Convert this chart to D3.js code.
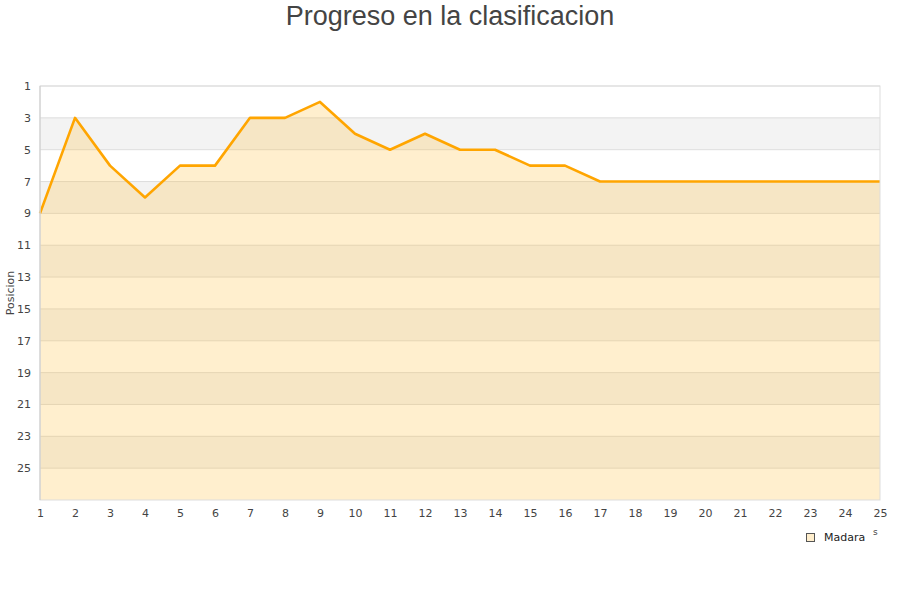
<!DOCTYPE html>
<html><head><meta charset="utf-8">
<script src="https://cdn.jsdelivr.net/npm/d3@7/dist/d3.min.js"></script>
<style>body{margin:0;background:#fff;font-family:"DejaVu Sans",sans-serif;}</style>
</head><body><svg id="c" width="900" height="600"></svg>
<script>
const jornadas = [1,2,3,4,5,6,7,8,9,10,11,12,13,14,15,16,17,18,19,20,21,22,23,24,25];
const posiciones = [9,3,6,8,6,6,3,3,2,4,5,4,5,5,6,6,7,7,7,7,7,7,7,7,7];
const yTicks = [1,3,5,7,9,11,13,15,17,19,21,23,25];
const serieNombre = "Madara";
const titulo = "Progreso en la clasificacion";

const svg = d3.select("#c");
const L=40,R=880,T=86,B=500;
const x = d3.scaleLinear().domain([1,25]).range([L,R]);
const y = d3.scaleLinear().domain([1,27]).range([T,B]);

// bands
for (let v=3; v<27; v+=4){
  svg.append("rect").attr("x",L).attr("width",R-L).attr("y",y(v)).attr("height",y(v+2)-y(v)).attr("fill","#f3f3f3");
}
// grid
svg.append("g").selectAll("line").data(yTicks).join("line")
  .attr("x1",L).attr("x2",R).attr("y1",d=>y(d)).attr("y2",d=>y(d)).attr("stroke","#dddddd");
// area
const area = d3.area().x((d,i)=>x(jornadas[i])).y0(y(27)).y1(d=>y(d));
svg.append("path").datum(posiciones).attr("d",area).attr("fill","rgba(255,190,60,0.25)");
const line = d3.line().x((d,i)=>x(jornadas[i])).y(d=>y(d));
svg.append("path").datum(posiciones).attr("d",line).attr("fill","none").attr("stroke","#ffa500").attr("stroke-width",2.6).attr("stroke-linejoin","round");
// border
svg.append("rect").attr("x",L).attr("y",T).attr("width",R-L).attr("height",B-T).attr("fill","none").attr("stroke","#dddddd");
svg.append("line").attr("x1",L).attr("x2",L).attr("y1",T).attr("y2",B).attr("stroke","#cccccc");

// axes
const yAxis = d3.axisLeft(y).tickValues(yTicks).tickSize(0).tickPadding(9);
const gy = svg.append("g").attr("transform",`translate(${L},0)`).call(yAxis);
gy.select(".domain").remove();
gy.selectAll("text").attr("font-size",11).attr("fill","#444").attr("font-family","DejaVu Sans");
const xAxis = d3.axisBottom(x).tickValues(jornadas).tickFormat(d3.format("d")).tickSize(0).tickPadding(9);
const gx = svg.append("g").attr("transform",`translate(0,${B})`).call(xAxis);
gx.select(".domain").remove();
gx.selectAll("text").attr("font-size",11).attr("fill","#444").attr("font-family","DejaVu Sans");

svg.append("text").attr("transform","translate(14,293) rotate(-90)").attr("text-anchor","middle")
  .attr("font-size",11).attr("fill","#444").text("Posicion");
svg.append("text").attr("x",450).attr("y",25).attr("text-anchor","middle").attr("font-size",27)
  .attr("fill","#444").attr("font-family","Liberation Sans, Arial, sans-serif").text(titulo);

// legend
svg.append("rect").attr("x",806.5).attr("y",533.5).attr("width",8).attr("height",8).attr("fill","#ffeecc").attr("stroke","#555");
svg.append("text").attr("x",824).attr("y",541).attr("font-size",11).attr("fill","#222").text(serieNombre);
svg.append("text").attr("x",873).attr("y",535).attr("font-size",9).attr("fill","#444").text("s");
</script></body></html>
